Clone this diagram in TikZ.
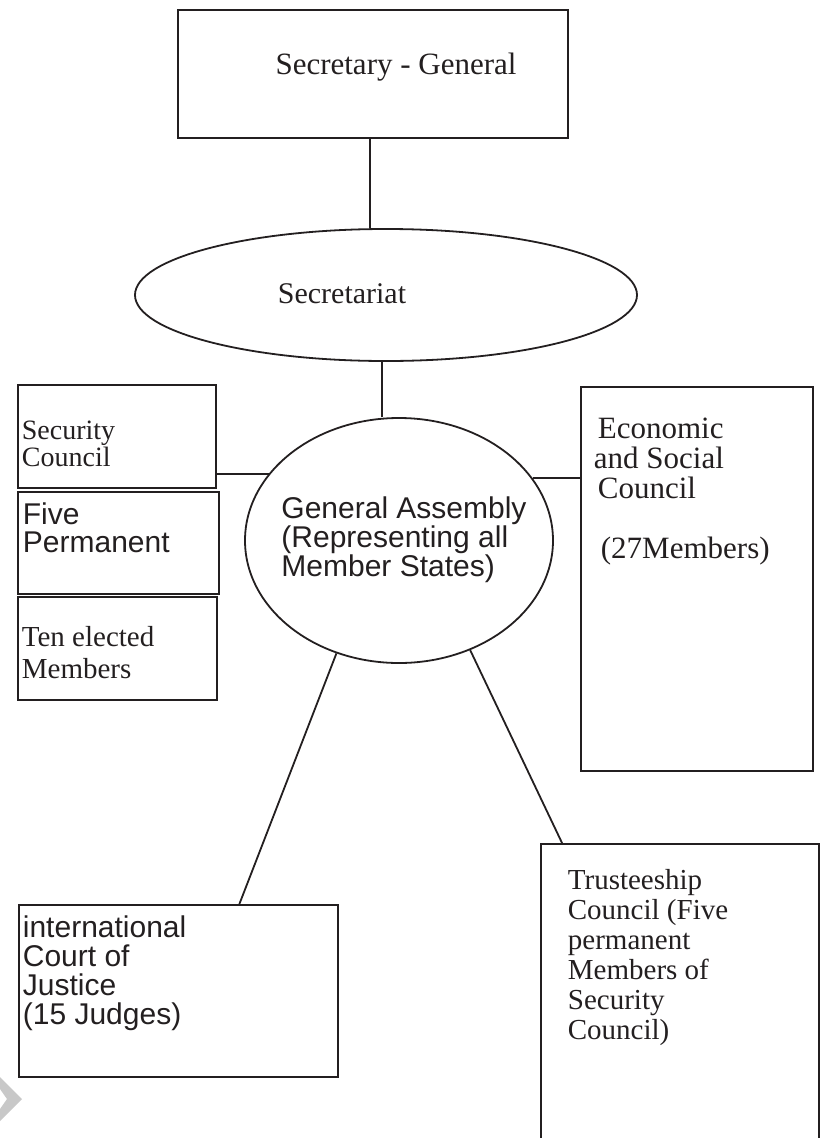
\documentclass[tikz,border=0pt]{standalone}
\usepackage{fontspec}
\setmainfont{Liberation Serif}
\newfontfamily\arialfont{Liberation Sans}
\usetikzlibrary{shapes.geometric}

\definecolor{ink}{HTML}{231F20}
\definecolor{stamp}{HTML}{C8C8C8}

\begin{document}
\begin{tikzpicture}[x=1pt, y=-1pt, line width=1.8pt, color=ink,
    unitbox/.style={draw, rectangle, inner sep=0pt},
    oval/.style={draw, ellipse, inner sep=0pt},
    serif/.style={inner sep=0pt, align=left, font=\fontsize{29}{28}\selectfont},
    sans/.style={inner sep=0pt, align=left, font=\arialfont\fontsize{30}{29}\selectfont}]
    \useasboundingbox (0,0) rectangle (823,1138);
    \clip (0,0) rectangle (823,1138);
    \node[unitbox, minimum width=390pt, minimum height=128pt] (sg) at (373,74) {};
    \node[serif, font=\fontsize{31}{30}\selectfont] (sg-t) at (396,67.5) {Secretary - General};
    \node[oval, minimum width=502pt, minimum height=132pt] (sec) at (386,295) {};
    \node[serif, font=\fontsize{30}{30}\selectfont] (sec-t) at (342,294) {Secretariat};
    \node[oval, minimum width=308pt, minimum height=245pt] (ga) at (399,540.5) {};
    \node[sans] (ga-t) at (404,540) {General Assembly\\(Representing all\\Member States)};
    \node[unitbox, minimum width=198pt, minimum height=103pt] (sc) at (117,436.5) {};
    \node[serif, anchor=north west, font=\fontsize{28}{27}\selectfont] (sc-t) at (21,420) {Security\\Council};
    \node[unitbox, line width=2.6pt, minimum width=201pt, minimum height=102pt] (five) at (118.5,543) {};
    \node[sans, anchor=north west, font=\arialfont\fontsize{30}{28}\selectfont] (five-t) at (22,502) {Five\\Permanent};
    \node[unitbox, minimum width=199pt, minimum height=103pt] (ten) at (117.5,648.5) {};
    \node[serif, anchor=north west, font=\fontsize{29}{32}\selectfont] (ten-t) at (21,625) {Ten elected\\Members};
    \node[unitbox, minimum width=232pt, minimum height=384pt] (eco) at (697,579) {};
    \node[serif, anchor=north west, font=\fontsize{31}{30}\selectfont] (eco-t) at (593,417) {\hspace{4pt}Economic\\and Social\\\hspace{4pt}Council\\[30pt]\hspace{7pt}(27Members)};
    \node[unitbox, minimum width=319pt, minimum height=172pt] (icj) at (178.5,991) {};
    \node[sans, anchor=north west] (icj-t) at (22,915) {international\\Court of\\Justice\\(15 Judges)};
    \node[unitbox, minimum width=278pt, minimum height=340pt] (tc) at (680,1014) {};
    \node[serif, anchor=north west, font=\fontsize{29}{30}\selectfont] (tc-t) at (567,868) {Trusteeship\\Council (Five\\permanent\\Members of\\Security\\Council)};
    \draw ([xshift=-3pt]sg.south) -- ([xshift=-3pt]sg.south |- sec.north);
    \draw ([xshift=-4pt]sec.south) -- ([xshift=-4pt]sec.south |- ga.north);
    \draw (ga.153) -- (ga.153 -| sc.east);
    \draw (ga.25) -- (ga.25 -| eco.west);
    \draw (ga.241) -- (icj.55);
    \draw (ga.303) -- ([xshift=22pt]tc.north west);
    \fill[stamp] (0,1077) -- (22,1099) -- (0,1121) -- (0,1109) -- (7,1099) -- (0,1089) -- cycle;
\end{tikzpicture}
\end{document}
